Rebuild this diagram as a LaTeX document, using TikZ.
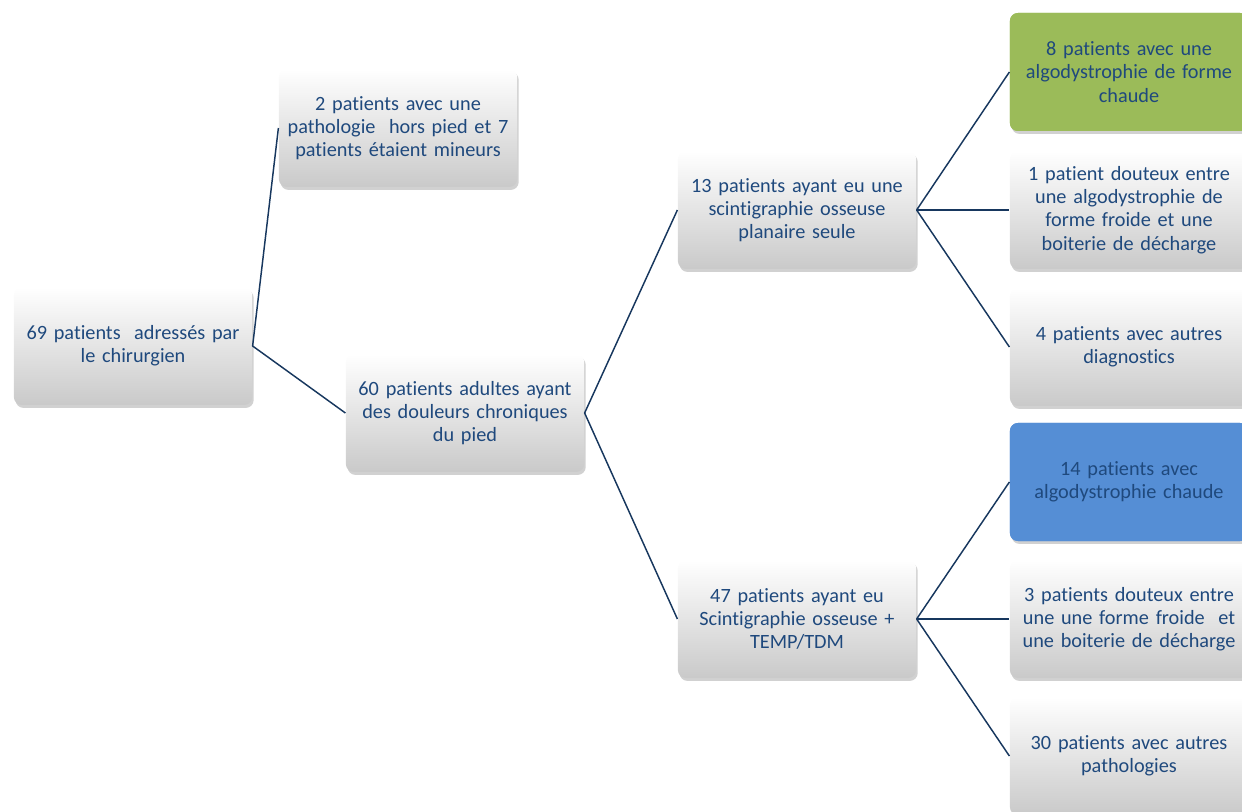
\documentclass[tikz,border=0pt]{standalone}
\usepackage{fontspec}
\setmainfont{Carlito}[Ligatures={NoCommon}]
\usetikzlibrary{shadows}

\definecolor{txtblue}{RGB}{31,73,125}
\definecolor{linkblue}{RGB}{23,55,94}
\definecolor{boxgreen}{RGB}{155,187,89}
\definecolor{boxblue}{RGB}{85,142,213}

\tikzset{every picture/.style={line width=0.75pt}}
\tikzset{
  greybox/.style={rounded corners=6pt, minimum width=177pt, minimum height=88.5pt,
    text width=172pt, align=center, text=txtblue,
    font=\fontsize{15.2}{17.4}\selectfont,
    top color=white, bottom color=black!21,
    drop shadow={shadow xshift=1.2pt, shadow yshift=-2.2pt, opacity=0.3, fill=black!60}},
  greenbox/.style={greybox, top color=boxgreen, bottom color=boxgreen, fill=boxgreen},
  bluebox/.style={greybox, top color=boxblue, bottom color=boxblue, fill=boxblue},
  link/.style={draw=linkblue, line width=1.1pt}
}

\begin{document}
\begin{tikzpicture}[x=0.75pt,y=0.75pt,yscale=-1,xscale=1]
	\useasboundingbox (0,0) rectangle (1242,812);

	% Level 1
	\node [greybox] (adresses) at (133,346) {69 patients \ adressés par\\le chirurgien};
	% Level 2
	\node [greybox] (exclus) at (398,128) {2 patients avec une\\pathologie \ hors pied et 7\\patients étaient mineurs};
	\node [greybox] (adultes) at (465,413) {60 patients adultes ayant\\des douleurs chroniques\\du pied};
	% Level 3
	\node [greybox] (planaire) at (797,210) {13 patients ayant eu une\\scintigraphie osseuse\\planaire seule};
	\node [greybox] (temp) at (797,619) {47 patients ayant eu\\Scintigraphie osseuse +\\TEMP/TDM};
	% Level 4, planar
	\node [greenbox] (chaudeA) at (1129,72) {8 patients avec une\\algodystrophie de forme\\chaude};
	\node [greybox] (douteuxA) at (1129,210) {1 patient douteux entre\\une algodystrophie de\\forme froide et une\\boiterie de décharge};
	\node [greybox] (autresA) at (1129,347) {4 patients avec autres\\diagnostics};
	% Level 4, TEMP/TDM
	\node [bluebox] (chaudeB) at (1129,482) {14 patients avec\\algodystrophie chaude};
	\node [greybox] (douteuxB) at (1129,619) {3 patients douteux entre\\une une forme froide \ et\\une boiterie de décharge};
	\node [greybox] (autresB) at (1129,756) {30 patients avec autres\\pathologies};

	% Connectors
	\draw [link] (exclus.west) -- (adresses.east) -- (adultes.west);
	\draw [link] (planaire.west) -- (adultes.east) -- (temp.west);
	\draw [link] (planaire.east) -- (chaudeA.west);
	\draw [link] (planaire.east) -- (douteuxA.west);
	\draw [link] (planaire.east) -- (autresA.west);
	\draw [link] (temp.east) -- (chaudeB.west);
	\draw [link] (temp.east) -- (douteuxB.west);
	\draw [link] (temp.east) -- (autresB.west);

\end{tikzpicture}
\end{document}
